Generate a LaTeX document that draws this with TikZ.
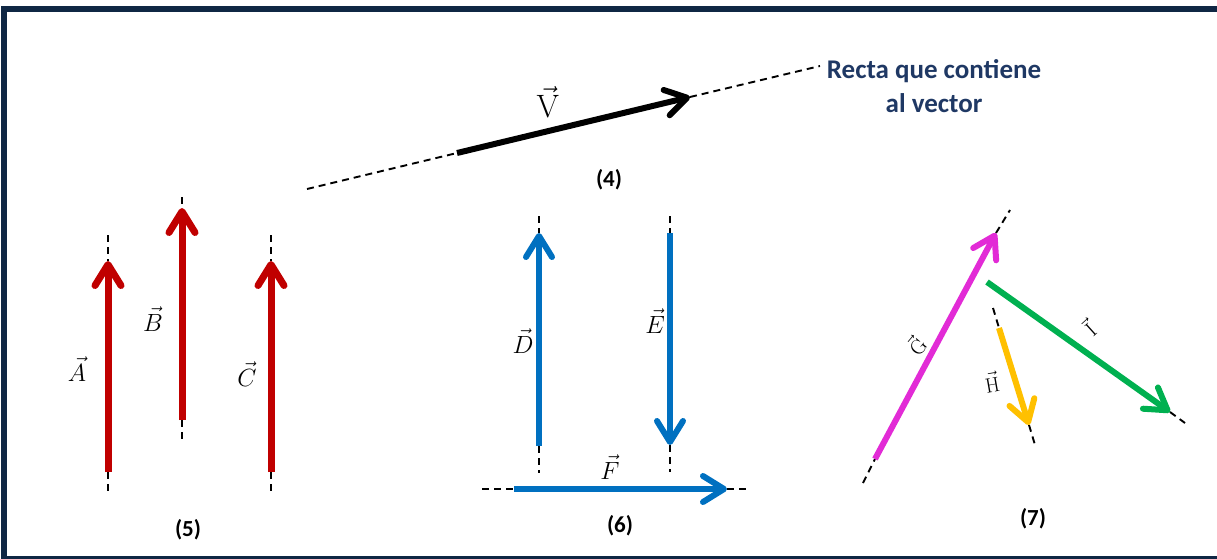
\documentclass[tikz,border=0pt]{standalone}
\usepackage[no-math]{fontspec}
\setmainfont{Carlito}
\usepackage{tikz}
\usetikzlibrary{arrows.meta}
\definecolor{cFrame}{HTML}{0F2744}
\definecolor{cText}{HTML}{1F3864}
\definecolor{cRed}{HTML}{C00000}
\definecolor{cBlue}{HTML}{0070C0}
\definecolor{cMag}{HTML}{E22BD6}
\definecolor{cGreen}{HTML}{00B050}
\definecolor{cGold}{HTML}{FFC000}
\tikzset{
  vec/.style ={line width=6pt,-{Straight Barb[length=21pt,width=26pt,round]}},
  rvec/.style={vec,line width=7pt,draw=cRed},
  bvec/.style={vec,draw=cBlue},
  recta/.style={dash pattern=on 7pt off 5pt,line width=1.9pt},
  tag/.style ={font=\fontsize{23}{26}\selectfont\bfseries,inner sep=1pt},
  vlbl/.style={font=\fontsize{24}{27}\selectfont,inner sep=1pt},
  tlbl/.style={font=\fontsize{21}{24}\selectfont,inner sep=1pt},
}
\begin{document}
\begin{tikzpicture}[x=1pt,y=-1pt]
\useasboundingbox (0,0) rectangle (1217,558);
\draw[cFrame,line width=6pt] (3.8,9) rectangle (1240,559);
% (4)
\coordinate (v0) at (307,189);
\coordinate (vt) at (457,153);
\coordinate (vh) at (690,97);
\coordinate (v1) at (820,66);
\draw[recta] (v0)--(vt);
\draw[recta] (vh)--(v1);
\draw[vec,black] (vt)--(vh);
\node[vlbl] (lv) at (548,102) {\scalebox{1.3}{$\vec{\mathrm{V}}$}};
\node[tag] (n4) at (609,180) {(4)};
\node[font=\fontsize{27}{34}\selectfont\bfseries,text=cText,align=center] (recta) at (934,86)
  {Recta que contiene\\al vector};
% (5)
\coordinate (a0) at (108,235);
\coordinate (ah) at (108,261);
\coordinate (at) at (108,472);
\coordinate (a1) at (108,495);
\coordinate (b0) at (182,197);
\coordinate (bh) at (182,208);
\coordinate (bt) at (182,420);
\coordinate (b1) at (182,443);
\coordinate (c0) at (271,235);
\coordinate (ch) at (271,261);
\coordinate (ct) at (271,472);
\coordinate (c1) at (271,493);
\draw[recta] (a0)--(ah) (at)--(a1);
\draw[recta] (b0)--(bh) (bt)--(b1);
\draw[recta] (c0)--(ch) (ct)--(c1);
\draw[rvec] (at)--(ah);
\draw[rvec] (bt)--(bh);
\draw[rvec] (ct)--(ch);
\node[vlbl] (la) at (77,369) {$\vec{A}$};
\node[vlbl] (lb) at (153,319) {$\vec{B}$};
\node[vlbl] (lc) at (247,374) {$\vec{C}$};
\node[tag] (n5) at (188,530) {(5)};
% (6)
\coordinate (d0) at (539,216);
\coordinate (dh) at (539,233);
\coordinate (dt) at (539,446);
\coordinate (d1) at (539,473);
\coordinate (e0) at (670,216);
\coordinate (et) at (670,233);
\coordinate (eh) at (670,445);
\coordinate (e1) at (670,472);
\coordinate (f0) at (482,489);
\coordinate (ft) at (514,489);
\coordinate (fh) at (727,489);
\coordinate (f1) at (750,489);
\draw[recta] (d0)--(dh) (dt)--(d1);
\draw[recta] (e0)--(et) (eh)--(e1);
\draw[recta] (f0)--(ft) (fh)--(f1);
\draw[bvec] (dt)--(dh);
\draw[bvec] (et)--(eh);
\draw[bvec] (ft)--(fh);
\node[vlbl] (ld) at (523,341) {$\vec{D}$};
\node[vlbl] (le) at (655,321) {$\vec{E}$};
\node[vlbl] (lf) at (610,467) {$\vec{F}$};
\node[tag] (n6) at (620,526) {(6)};
% (7)
\coordinate (g0) at (863,483);
\coordinate (gt) at (875,459);
\coordinate (gh) at (996,233);
\coordinate (g1) at (1010,210);
\coordinate (it) at (987,282);
\coordinate (ih) at (1170,412);
\coordinate (i1) at (1185,423);
\coordinate (h0) at (993,308);
\coordinate (ht) at (999,328);
\coordinate (hh) at (1029,425);
\coordinate (h1) at (1035,445);
\draw[recta] (g0)--(gt) (gh)--(g1);
\draw[recta] (ih)--(i1);
\draw[recta] (h0)--(ht) (hh)--(h1);
\draw[vec,cMag] (gt)--(gh);
\draw[vec,cGreen] (it)--(ih);
\draw[vec,cGold] (ht)--(hh);
\node[tlbl,rotate=50] (lg) at (916,345) {$\vec{\mathrm{G}}$};
\node[tlbl,rotate=42] (li) at (1089,328) {$\vec{\mathrm{I}}$};
\node[tlbl,rotate=10] (lh) at (992,382) {$\vec{\mathrm{H}}$};
\node[tag] (n7) at (1033,519) {(7)};
\end{tikzpicture}
\end{document}
